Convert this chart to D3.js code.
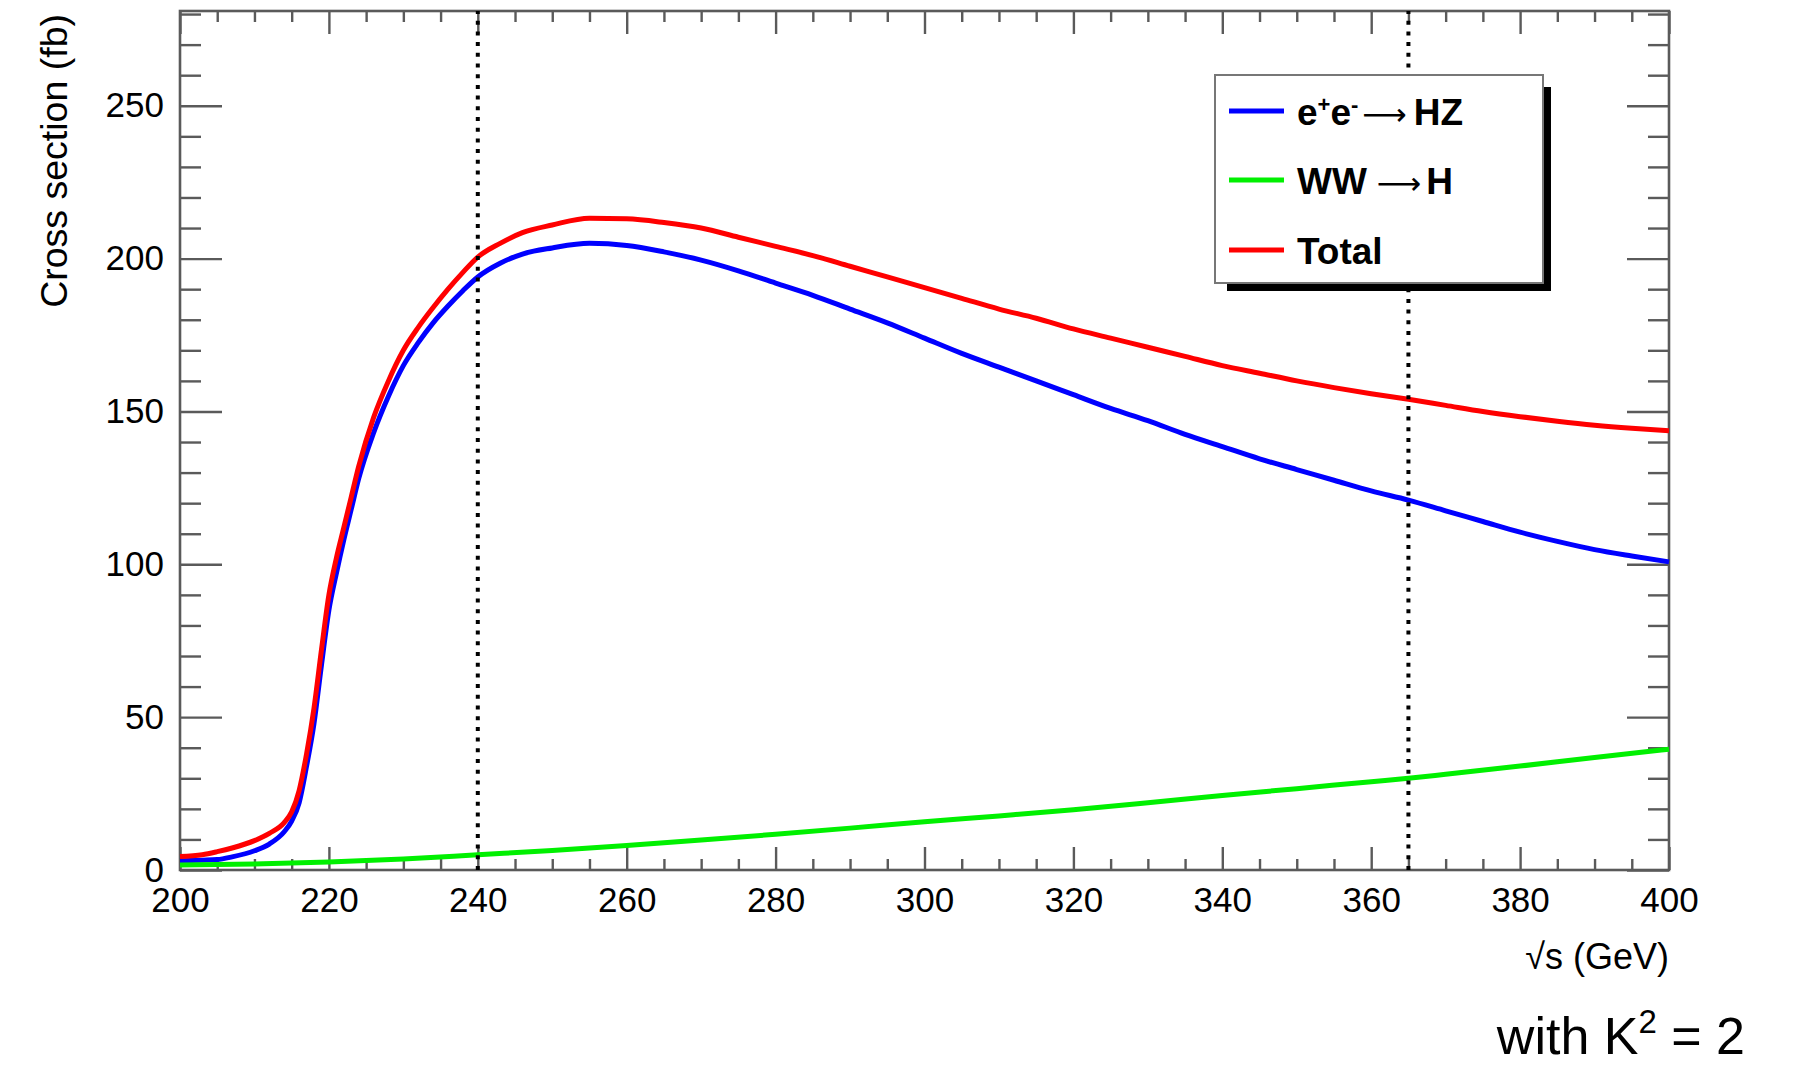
<!DOCTYPE html>
<html>
<head>
<meta charset="utf-8">
<script src="https://cdn.jsdelivr.net/npm/d3@7.9.0/dist/d3.min.js"></script>
<style>
  html, body { margin: 0; padding: 0; background: #fff; }
  svg { display: block; font-family: 'Liberation Sans', Arial, Helvetica, sans-serif; }
</style>
</head>
<body>
<div id="chart"></div>
<script>
// ---------- DATA ----------
// e+e- -> HZ
const hzEnergy = [200, 203, 205, 207, 210, 212, 214, 215, 216, 217, 218, 219, 220, 221, 222, 223, 224, 226, 228, 230, 232, 234, 236, 238, 240, 243, 246, 250, 255, 260, 265, 270, 275, 280, 285, 290, 295, 300, 305, 310, 315, 320, 325, 330, 335, 340, 345, 350, 355, 360, 365, 370, 375, 380, 385, 390, 395, 400];
const hzXsec = [3.0, 3.2, 3.4, 4.3, 6.3, 8.5, 12.5, 16, 22, 34, 48, 67, 85, 97, 108, 118, 128, 143, 155, 165, 172.5, 179, 184.5, 189.5, 194, 198.5, 201.5, 203.5, 205, 204.3, 202.2, 199.5, 196, 192, 188, 183.5, 179, 174, 169, 164.5, 160, 155.5, 151, 147, 142.5, 138.5, 134.5, 131, 127.5, 124, 121, 117.5, 114, 110.5, 107.5, 104.8, 102.7, 100.8];

// WW -> H
const wwEnergy = [200, 210, 220, 230, 240, 250, 260, 270, 280, 290, 300, 310, 320, 330, 340, 350, 360, 365, 370, 380, 390, 400];
const wwXsec = [1.6, 2.0, 2.6, 3.6, 5.0, 6.4, 8.0, 9.8, 11.7, 13.7, 15.8, 17.7, 19.7, 22.0, 24.4, 26.6, 28.9, 30.0, 31.3, 34.0, 36.8, 39.5];

// Total
const totEnergy = [200, 203, 205, 207, 210, 212, 214, 215, 216, 217, 218, 219, 220, 221, 222, 223, 224, 226, 228, 230, 232, 234, 236, 238, 240, 243, 246, 250, 255, 260, 265, 270, 275, 280, 285, 290, 295, 300, 305, 310, 315, 320, 325, 330, 335, 340, 345, 350, 355, 360, 365, 370, 375, 380, 385, 390, 395, 400];
const totXsec = [4.4, 5.0, 6.0, 7.2, 9.6, 12, 15.5, 19, 26, 38, 53, 72, 90, 102, 112, 122, 132, 148, 160, 170, 177.5, 184, 190, 195.5, 200.5, 205, 208.5, 211, 213.2, 213, 211.8, 210, 207, 204, 201, 197.5, 194, 190.5, 187, 183.5, 180.5, 177, 174, 171, 168, 165, 162.5, 160, 157.8, 155.8, 154, 152, 150, 148.3, 146.8, 145.5, 144.5, 143.7];

const markerEnergies = [240, 365];
const xMajorTicks = [200, 220, 240, 260, 280, 300, 320, 340, 360, 380, 400];
const yMajorTicks = [0, 50, 100, 150, 200, 250];
const legendLabels = ['HZ', 'WW', 'Total'];

// ---------- LAYOUT ----------
const width = 1799;
const height = 1065;
const plot = { left: 180, right: 1669, top: 11, bottom: 870 };
const frameColor = '#5a5a5a';
const fontSize = 35;

const svg = d3.select('#chart')
  .append('svg')
  .attr('width', width)
  .attr('height', height);

const x = d3.scaleLinear().domain([200, 400]).range([plot.left, plot.right]);
const y = d3.scaleLinear().domain([0, 281]).range([plot.bottom, plot.top]);

const xMinor = d3.range(200, 401, 5).filter((d) => d % 20 !== 0);
const yMinor = d3.range(0, 281, 10).filter((d) => d % 50 !== 0);

function styleAxis(g) {
  g.select('.domain').remove();
  g.selectAll('line').attr('stroke', frameColor).attr('stroke-width', 2.4);
  g.selectAll('text')
    .attr('fill', '#000')
    .style('font-size', `${fontSize}px`);
}

// ---------- AXES ----------
// bottom
svg.append('g')
  .attr('transform', `translate(0,${plot.bottom})`)
  .call(d3.axisBottom(x).tickValues(xMinor).tickSize(-11).tickFormat(''))
  .call(styleAxis);
svg.append('g')
  .attr('transform', `translate(0,${plot.bottom})`)
  .call(d3.axisBottom(x).tickValues(xMajorTicks).tickSize(-23).tickPadding(16).tickFormat(d3.format('d')))
  .call(styleAxis)
  .selectAll('text').attr('dy', '0.75em');

// top
svg.append('g')
  .attr('transform', `translate(0,${plot.top})`)
  .call(d3.axisTop(x).tickValues(xMinor).tickSize(-11).tickFormat(''))
  .call(styleAxis);
svg.append('g')
  .attr('transform', `translate(0,${plot.top})`)
  .call(d3.axisTop(x).tickValues(xMajorTicks).tickSize(-23).tickFormat(''))
  .call(styleAxis);

// left
svg.append('g')
  .attr('transform', `translate(${plot.left},0)`)
  .call(d3.axisLeft(y).tickValues(yMinor).tickSize(-21).tickFormat(''))
  .call(styleAxis);
svg.append('g')
  .attr('transform', `translate(${plot.left},0)`)
  .call(d3.axisLeft(y).tickValues(yMajorTicks).tickSize(-42).tickPadding(16).tickFormat(d3.format('d')))
  .call(styleAxis);

// right
svg.append('g')
  .attr('transform', `translate(${plot.right},0)`)
  .call(d3.axisRight(y).tickValues(yMinor).tickSize(-21).tickFormat(''))
  .call(styleAxis);
svg.append('g')
  .attr('transform', `translate(${plot.right},0)`)
  .call(d3.axisRight(y).tickValues(yMajorTicks).tickSize(-42).tickFormat(''))
  .call(styleAxis);

// frame
svg.append('rect')
  .attr('x', plot.left)
  .attr('y', plot.top)
  .attr('width', plot.right - plot.left)
  .attr('height', plot.bottom - plot.top)
  .attr('fill', 'none')
  .attr('stroke', frameColor)
  .attr('stroke-width', 2.6);

// axis titles
svg.append('text')
  .attr('transform', `translate(67,${plot.top + 3}) rotate(-90)`)
  .attr('text-anchor', 'end')
  .style('font-size', '37.5px')
  .text('Cross section (fb)');

svg.append('text')
  .attr('x', plot.right)
  .attr('y', 969)
  .attr('text-anchor', 'end')
  .style('font-size', '36px')
  .text('√s (GeV)');

// ---------- CURVES ----------
const line = d3.line()
  .x((d) => x(d[0]))
  .y((d) => y(d[1]))
  .curve(d3.curveMonotoneX);

const series = [
  { key: 'HZ', energy: hzEnergy, xsec: hzXsec, color: '#0000ff' },
  { key: 'WW', energy: wwEnergy, xsec: wwXsec, color: '#00f000' },
  { key: 'Total', energy: totEnergy, xsec: totXsec, color: '#ff0000' },
];

svg.append('g')
  .attr('class', 'curves')
  .selectAll('path')
  .data(series)
  .join('path')
  .attr('d', (s) => line(d3.zip(s.energy, s.xsec)))
  .attr('fill', 'none')
  .attr('stroke', (s) => s.color)
  .attr('stroke-width', 5)
  .attr('stroke-linejoin', 'round');

// dotted markers
svg.append('g')
  .selectAll('line')
  .data(markerEnergies)
  .join('line')
  .attr('x1', (d) => x(d))
  .attr('x2', (d) => x(d))
  .attr('y1', plot.bottom)
  .attr('y2', plot.top)
  .attr('stroke', '#000')
  .attr('stroke-width', 4)
  .attr('stroke-dasharray', '4 6.7');

// ---------- LEGEND ----------
const legend = { left: 1215, top: 75, right: 1543, bottom: 283 };
svg.append('rect')
  .attr('x', legend.left + 12)
  .attr('y', legend.top + 12)
  .attr('width', legend.right - legend.left - 4)
  .attr('height', legend.bottom - legend.top - 4)
  .attr('fill', '#000');
svg.append('rect')
  .attr('x', legend.left)
  .attr('y', legend.top)
  .attr('width', legend.right - legend.left)
  .attr('height', legend.bottom - legend.top)
  .attr('fill', '#fff')
  .attr('stroke', '#777')
  .attr('stroke-width', 2);

const legendRowY = [111, 180, 250];
const entries = svg.append('g')
  .selectAll('g')
  .data(series)
  .join('g')
  .attr('transform', (d, i) => `translate(0,${legendRowY[i]})`);

entries.append('line')
  .attr('x1', 1229)
  .attr('x2', 1284)
  .attr('stroke', (d) => d.color)
  .attr('stroke-width', 5);

const labels = entries.append('text')
  .attr('x', 1297)
  .attr('y', 14)
  .style('font-size', '37px')
  .style('font-weight', 'bold');

function arrow(t, dx, dy) {
  t.append('tspan')
    .attr('dx', dx)
    .attr('dy', dy)
    .style('font-family', "'DejaVu Sans', sans-serif")
    .style('font-weight', 'normal')
    .style('font-size', '31px')
    .text('⟶');
}

labels.filter((d) => d.key === legendLabels[0]).each(function () {
  const t = d3.select(this);
  t.append('tspan').text('e');
  t.append('tspan').attr('dy', -13).style('font-size', '22px').text('+');
  t.append('tspan').attr('dy', 13).text('e');
  t.append('tspan').attr('dy', -13).style('font-size', '22px').text('-');
  arrow(t, 4, 13);
  t.append('tspan').attr('dx', 7).text('HZ');
});
labels.filter((d) => d.key === legendLabels[1]).each(function () {
  const t = d3.select(this);
  t.append('tspan').text('WW');
  arrow(t, 10, 0);
  t.append('tspan').attr('dx', 5).text('H');
});
labels.filter((d) => d.key === legendLabels[2]).text('Total');

// ---------- NOTE ----------
const note = svg.append('text')
  .attr('x', 1745)
  .attr('y', 1054)
  .attr('text-anchor', 'end')
  .style('font-size', '52px');
note.append('tspan').text('with K');
note.append('tspan').attr('dy', -21).style('font-size', '33px').text('2');
note.append('tspan').attr('dy', 21).text(' = 2');
</script>
</body>
</html>
